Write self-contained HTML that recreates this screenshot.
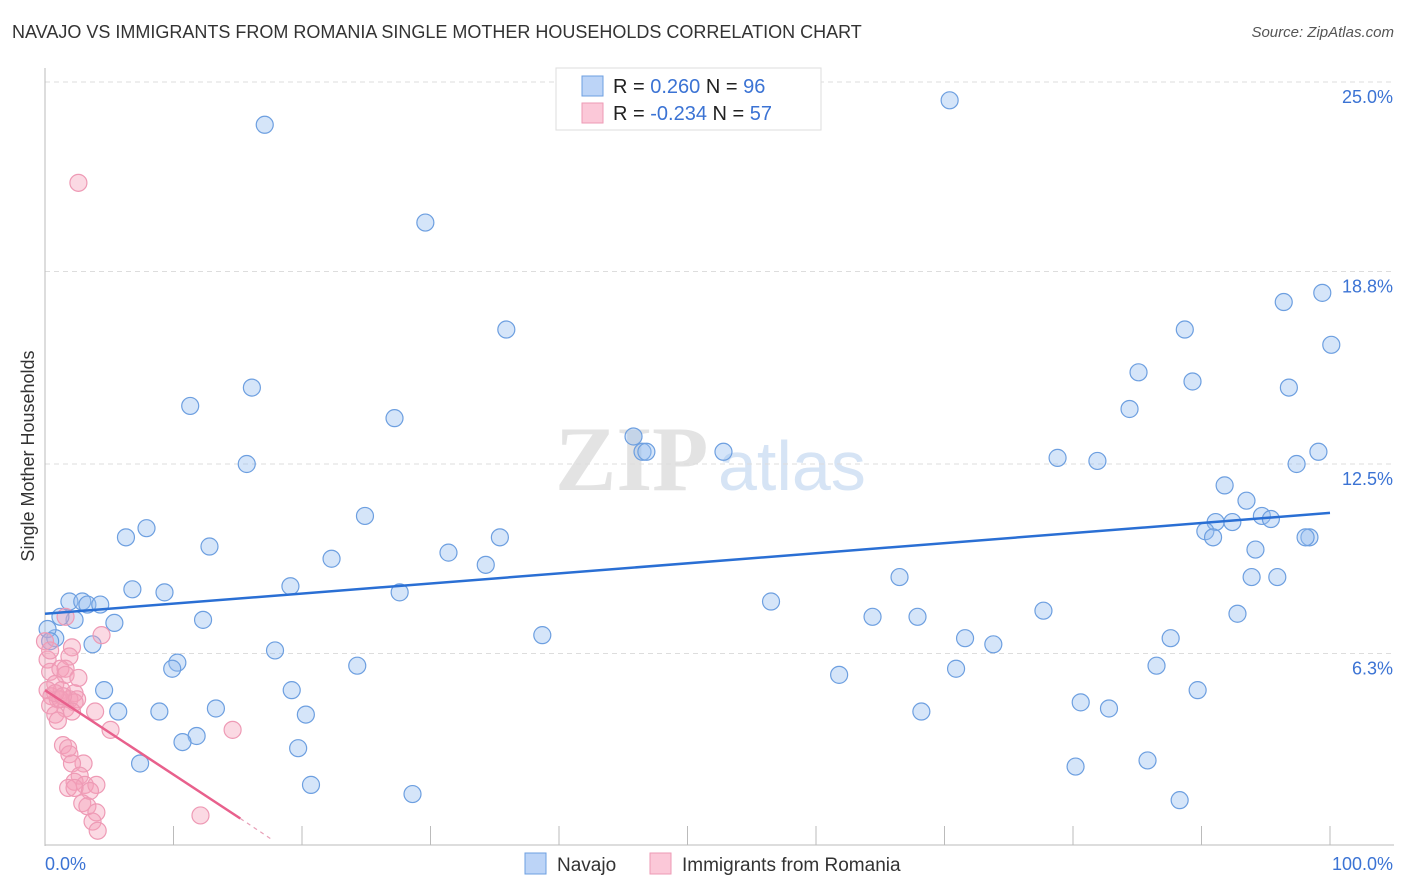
<!DOCTYPE html>
<html><head><meta charset="utf-8"><style>
body{margin:0;background:#fff;font-family:"Liberation Sans",sans-serif}
#wrap{position:relative;width:1406px;height:892px;overflow:hidden}
.t{position:absolute;white-space:nowrap}
</style></head><body>
<div id="wrap">
<div class="t" style="left:12px;top:22px;font-size:18px;color:#333">NAVAJO VS IMMIGRANTS FROM ROMANIA SINGLE MOTHER HOUSEHOLDS CORRELATION CHART</div>
<div class="t" style="right:12px;top:24px;font-size:15px;color:#555;font-style:italic">Source: ZipAtlas.com</div>
<svg id="svg" width="1406" height="892" style="position:absolute;left:0;top:0"></svg>
</div>
<script>
const yTicks=[25.0,18.8,12.5,6.3];
const yTickLabels=["25.0%","18.8%","12.5%","6.3%"];
const xTickVals=[0,10,20,30,40,50,60,70,80,90,100];
const navajoX=[17.1,70.4,29.6,35.9,16.1,11.3,27.2,15.7,45.8,46.5,46.8,52.8,24.9,7.9,6.3,12.8,22.3,31.4,35.4,34.3,6.8,9.3,19.1,27.6,1.9,2.9,3.3,4.3,5.4,2.3,1.2,0.8,3.7,12.3,38.7,17.9,10.3,9.9,24.3,4.6,19.2,5.7,8.9,13.3,20.3,11.8,10.7,19.7,7.4,20.7,28.6,56.5,64.4,67.9,66.5,71.6,73.8,61.8,70.9,68.2,77.7,78.8,81.9,80.6,82.8,80.2,85.8,88.3,86.5,87.6,89.7,84.4,85.1,89.3,88.7,96.4,99.4,100.1,96.8,99.1,97.4,91.8,93.5,94.7,95.4,91.1,92.4,90.3,90.9,94.2,98.4,98.1,93.9,95.9,92.8,0.2,0.4];
const navajoY=[23.6,24.4,20.4,16.9,15.0,14.4,14.0,12.5,13.4,12.9,12.9,12.9,10.8,10.4,10.1,9.8,9.4,9.6,10.1,9.2,8.4,8.3,8.5,8.3,8.0,8.0,7.9,7.9,7.3,7.4,7.5,6.8,6.6,7.4,6.9,6.4,6.0,5.8,5.9,5.1,5.1,4.4,4.4,4.5,4.3,3.6,3.4,3.2,2.7,2.0,1.7,8.0,7.5,7.5,8.8,6.8,6.6,5.6,5.8,4.4,7.7,12.7,12.6,4.7,4.5,2.6,2.8,1.5,5.9,6.8,5.1,14.3,15.5,15.2,16.9,17.8,18.1,16.4,15.0,12.9,12.5,11.8,11.3,10.8,10.7,10.6,10.6,10.3,10.1,9.7,10.1,10.1,8.8,8.8,7.6,7.1,6.7];
const romaniaX=[2.6,4.4,1.6,2.1,1.9,0.2,0.4,1.2,1.6,1.6,2.6,0.8,0.2,1.3,2.3,0.5,1.0,1.9,2.5,0.4,1.6,2.3,0.8,1.0,2.1,3.9,5.1,14.6,1.4,1.8,1.9,3.0,2.1,2.7,2.3,3.1,1.8,4.0,2.3,3.5,2.9,3.3,4.0,3.7,4.1,12.1,1.2,0.8,1.4,0,0.4];
const romaniaY=[21.7,6.9,7.5,6.5,6.2,6.1,5.7,5.8,5.8,5.6,5.5,5.3,5.1,5.1,5.0,4.9,4.8,4.8,4.8,4.6,4.5,4.7,4.3,4.1,4.4,4.4,3.8,3.8,3.3,3.2,3.0,2.7,2.7,2.3,2.1,2.0,1.9,2.0,1.9,1.8,1.4,1.3,1.1,0.8,0.5,1.0,4.8,5.0,4.9,6.7,6.4];
const navajoTrend=[[0,7.6],[100,10.9]];
const romaniaTrend=[[0,5.1],[15.2,0.9]];
const romaniaTrendDash=[[15.2,0.9],[17.7,0.2]];

const svg=document.getElementById('svg');const NS='http://www.w3.org/2000/svg';
const X=v=>45+v*12.85, Y=v=>846-v*30.56;
function el(t,a,p){const e=document.createElementNS(NS,t);for(const k in a)e.setAttribute(k,a[k]);(p||svg).appendChild(e);return e;}
// watermark
let wm=el('text',{x:555,y:490,'font-size':92,'font-family':'Liberation Serif, serif',fill:'#e3e3e3','font-weight':'bold'});wm.textContent='ZIP';

let wm2=el('text',{x:718,y:490,'font-size':70,'font-family':'Liberation Sans, sans-serif',fill:'#d6e4f5'});wm2.textContent='atlas';

yTicks.forEach((v,i)=>{
 let g=el('line',{x1:45,x2:1394,y1:Y(v),y2:Y(v),stroke:'#ddd','stroke-dasharray':'5,4'});
 
 let t=el('text',{x:1393,y:Y(v)+21,'text-anchor':'end','font-size':18,fill:'#3b73d4'});t.textContent=yTickLabels[i];
 
});
let ya=el('line',{x1:45,x2:45,y1:68,y2:846,stroke:'#bbb'});
let xa=el('line',{x1:45,x2:1394,y1:845,y2:845,stroke:'#bbb'});
xTickVals.forEach(v=>{let t=el('line',{x1:X(v),x2:X(v),y1:826,y2:845,stroke:'#bbb'});});
function pts(xs,ys,fill,stroke,name){xs.forEach((x,i)=>{let c=el('circle',{cx:X(x),cy:Y(ys[i]),r:8.5,fill:fill,stroke:stroke,'stroke-width':1.2});
 });}
pts(navajoX,navajoY,'rgba(150,190,240,0.4)','#6d9fe0','navajo-point');
pts(romaniaX,romaniaY,'rgba(245,160,185,0.4)','#ee9ab5','romania-point');
function ln(d,c,name,dash){let l=el('line',{x1:X(d[0][0]),y1:Y(d[0][1]),x2:X(d[1][0]),y2:Y(d[1][1]),stroke:c,'stroke-width':dash?1.2:2.5});if(dash)l.setAttribute('stroke-dasharray','4,4');
 }
ln(navajoTrend,'#2a6fd4','navajo-trend-line');
ln(romaniaTrend,'#e8608c','romania-trend-line');
ln(romaniaTrendDash,'#e8a0b8','romania-trend-extension',true);
let yl=el('text',{x:34,y:456,'font-size':18,fill:'#333','text-anchor':'middle',transform:'rotate(-90 34 456)'});yl.textContent='Single Mother Households';

let x0=el('text',{x:45,y:870,'font-size':18,fill:'#3b73d4'});x0.textContent='0.0%';
let x1=el('text',{x:1393,y:870,'font-size':18,fill:'#3b73d4','text-anchor':'end'});x1.textContent='100.0%';
// legend box
let lb=el('rect',{x:556,y:68,width:265,height:62,fill:'#fff',stroke:'#ddd'});
function row(y,f,s,r,n,nm){let q=el('rect',{x:582,y:y-10,width:21,height:20,fill:f,stroke:s});
 let t=el('text',{x:613,y:y+7,'font-size':20,fill:'#222'});t.innerHTML='R = <tspan fill="#3b73d4">'+r+'</tspan>   N = <tspan fill="#3b73d4">'+n+'</tspan>';
 t.setAttribute('xml:space','preserve');}
row(86,'#bcd4f7','#6d9fe0','  0.260','96','navajo');
row(113,'#fbc8d8','#ee9ab5','-0.234','57','romania');
// bottom legend
function bl(x,f,s,txt,nm){let q=el('rect',{x:x,y:853,width:21,height:21,fill:f,stroke:s});
 let t=el('text',{x:x+32,y:871,'font-size':19,fill:'#333'});t.textContent=txt;}
bl(525,'#bcd4f7','#6d9fe0','Navajo','navajo');
bl(650,'#fbc8d8','#ee9ab5','Immigrants from Romania','romania');
</script>
</body></html>
